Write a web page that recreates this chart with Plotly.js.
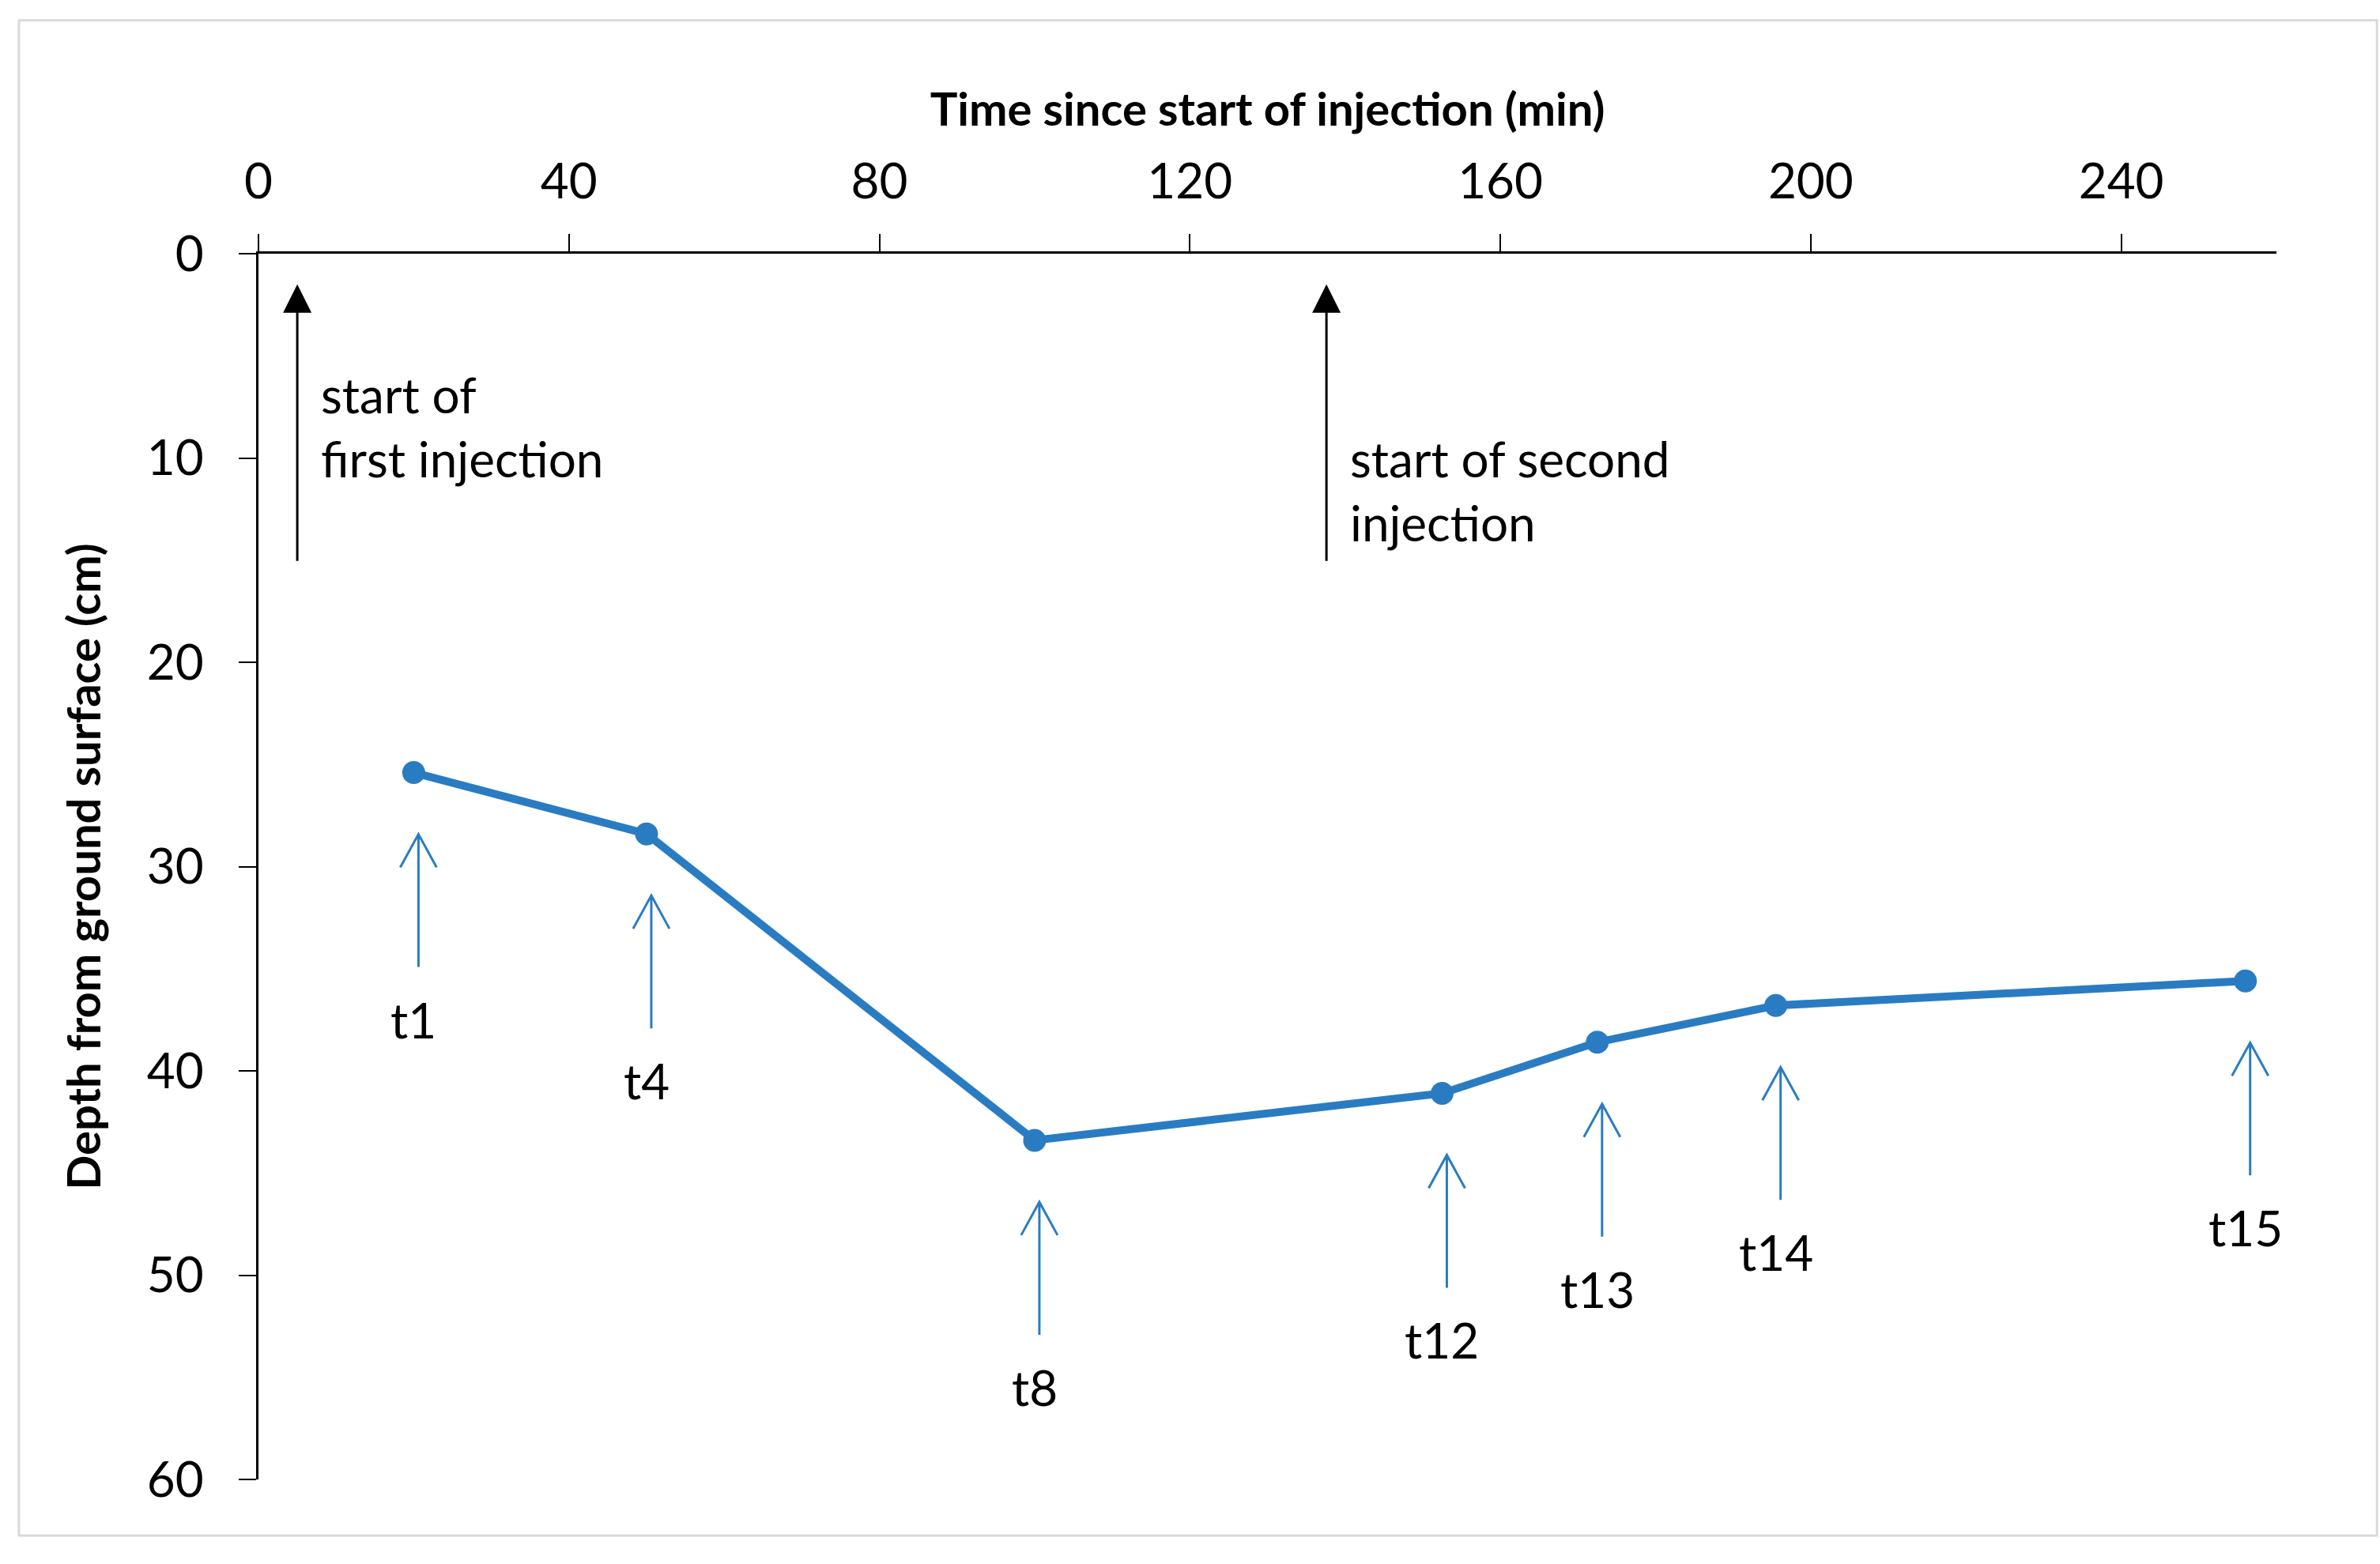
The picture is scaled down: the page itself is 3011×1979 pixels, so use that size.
<!DOCTYPE html>
<html>
<head>
<meta charset="utf-8">
<script src="https://cdn.plot.ly/plotly-3.0.1.min.js"></script>
<style>
  html, body { margin: 0; padding: 0; background: #ffffff; }
  #chart { width: 3011px; height: 1979px; }
</style>
</head>
<body>
<div id="chart"></div>
<script>
// ---- data ----
const timeMin = [20, 50, 100, 152.5, 172.5, 195.5, 256];
const depthCm = [25.4, 28.4, 43.4, 41.1, 38.6, 36.8, 35.6];
const pointLabels = ['t1', 't4', 't8', 't12', 't13', 't14', 't15'];

const xTickVals = [0, 40, 80, 120, 160, 200, 240];
const yTickVals = [0, 10, 20, 30, 40, 50, 60];

const injectionTimes = [5, 137.6];
const injectionLabels = ['start of<br>first injection', 'start of second<br>injection'];

// ---- styling ----
const BLUE = '#2a7cc2';
const FONT = 'Lato, "Open Sans", "Noto Sans", sans-serif';

const trace = {
  type: 'scatter',
  mode: 'lines+markers',
  x: timeMin,
  y: depthCm,
  line: { color: BLUE, width: 10 },
  marker: { color: BLUE, size: 29 },
  hoverinfo: 'x+y',
  showlegend: false
};

const shapes = [];
const annotations = [];

// blue open-head arrows pointing up to each measurement, with labels below
for (let i = 0; i < timeMin.length; i++) {
  shapes.push({
    type: 'path',
    xref: 'x', yref: 'y',
    xsizemode: 'pixel', ysizemode: 'pixel',
    xanchor: timeMin[i], yanchor: depthCm[i],
    path: 'M6,-78L6,-246M-17,-120L6,-78L29,-120',
    line: { color: BLUE, width: 3 }
  });
  annotations.push({
    x: timeMin[i], y: depthCm[i],
    xref: 'x', yref: 'y',
    yshift: -312,
    text: pointLabels[i],
    showarrow: false,
    xanchor: 'center', yanchor: 'middle',
    font: { family: FONT, size: 62, color: '#000000' }
  });
}

// black arrows marking injection starts
for (let k = 0; k < injectionTimes.length; k++) {
  annotations.push({
    x: injectionTimes[k], y: 1.5,
    ax: injectionTimes[k], ay: 15.1,
    xref: 'x', yref: 'y', axref: 'x', ayref: 'y',
    text: '',
    showarrow: true,
    arrowhead: 2,
    arrowsize: 2.4,
    arrowwidth: 3,
    arrowcolor: '#000000'
  });
  annotations.push({
    x: injectionTimes[k] + 2.8, y: k === 0 ? 8.45 : 11.6,
    xref: 'x', yref: 'y',
    text: injectionLabels[k],
    showarrow: false,
    xanchor: 'left', yanchor: 'middle', align: 'left',
    font: { family: FONT, size: 62, color: '#000000' }
  });
}

// light grey frame around the whole figure
shapes.push({
  type: 'rect', xref: 'paper', yref: 'paper',
  x0: -0.1187, x1: 1.0498, y0: -0.0458, y1: 1.1903,
  line: { color: '#d9d9d9', width: 3 },
  fillcolor: 'rgba(0,0,0,0)',
  layer: 'below'
});

const layout = {
  width: 3011,
  height: 1979,
  margin: { l: 327, r: 131, t: 321, b: 107, pad: 0 },
  paper_bgcolor: '#ffffff',
  plot_bgcolor: '#ffffff',
  font: { family: FONT, color: '#000000' },
  showlegend: false,
  xaxis: {
    range: [0, 260],
    side: 'top',
    showline: true, linecolor: '#000000', linewidth: 3,
    ticks: 'outside', ticklen: 22, tickwidth: 2, tickcolor: '#000000',
    tickmode: 'array', tickvals: xTickVals,
    ticklabelstandoff: 20,
    showgrid: false, zeroline: false,
    tickfont: { family: FONT, size: 62, color: '#000000' },
    title: {
      text: '<b>Time since start of injection (min)</b>',
      font: { family: FONT, size: 58, color: '#000000' },
      standoff: 12
    }
  },
  yaxis: {
    range: [60, 0],
    showline: true, linecolor: '#000000', linewidth: 3,
    ticks: 'outside', ticklen: 22, tickwidth: 2, tickcolor: '#000000',
    tickmode: 'array', tickvals: yTickVals,
    ticklabelstandoff: 32,
    showgrid: false, zeroline: false,
    tickfont: { family: FONT, size: 62, color: '#000000' },
    title: {
      text: '<b>Depth from ground surface (cm)</b>',
      font: { family: FONT, size: 58, color: '#000000' },
      standoff: 40
    }
  },
  shapes: shapes,
  annotations: annotations
};

Plotly.newPlot('chart', [trace], layout, { displayModeBar: false, staticPlot: true });
</script>
</body>
</html>
